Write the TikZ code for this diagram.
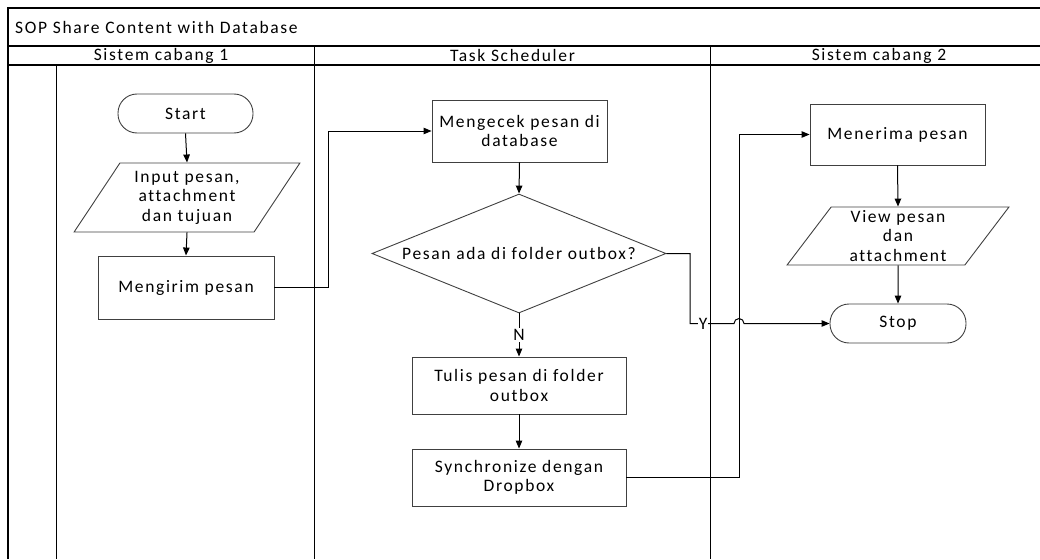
\documentclass[tikz,border=0pt]{standalone}
\usepackage{fontspec}
\setmainfont{Carlito}[LetterSpace=9.5,Ligatures=NoCommon]
\usetikzlibrary{shapes.geometric,arrows.meta,calc}
\newcommand{\fs}{\fontsize{17.5}{19.5}\selectfont}
\begin{document}
\begin{tikzpicture}[x=1pt,y=-1pt,
  frame/.style={line width=1.6pt, draw=black},
  box/.style={draw=black!75, line width=0.9pt, rectangle, align=center, inner sep=0pt, font=\fs},
  term/.style={box, rounded corners=19pt},
  io/.style={trapezium, trapezium stretches=true, trapezium left angle=56, trapezium right angle=124, draw=black!75, line width=0.9pt, align=center, inner sep=0pt, font=\fs},
  dec/.style={diamond, draw=black!75, line width=0.9pt, aspect=2.47, minimum width=294pt, minimum height=119pt, inner sep=0pt, font=\fs},
  conn/.style={draw=black, line width=1pt, -{Triangle[length=8pt,width=6.5pt]}},
  lbl/.style={fill=white, inner sep=1pt, font=\fs},
  hdr/.style={font=\fs, inner sep=0pt}
]
\useasboundingbox (0,0) rectangle (1040,559);
% frame and lanes
\draw[frame] (8,559) -- (8,8) -- (1040,8);
\draw[frame] (8,46) -- (1040,46);
\draw[frame] (8,65) -- (1040,65);
\draw[frame] (314.5,46) -- (314.5,559);
\draw[frame] (710.5,46) -- (710.5,559);
\draw[frame] (56.5,65) -- (56.5,559);
% headers
\node[hdr, anchor=west] (title) at (15,27) {SOP Share Content with Database};
\node[hdr] (h1) at (161,55.5) {Sistem cabang 1};
\node[hdr] (h2) at (512.5,55.5) {Task Scheduler};
\node[hdr] (h3) at (879,55.5) {Sistem cabang 2};
% nodes
\node[term, minimum width=135pt, minimum height=39pt] (start) at (185.5,113.5) {Start};
\node[io, minimum width=226pt, minimum height=69pt] (input) at (187,197.5) {Input pesan,\\attachment\\dan tujuan};
\node[box, minimum width=176pt, minimum height=63pt] (send) at (186,287.5) {Mengirim pesan};
\node[box, minimum width=175pt, minimum height=62pt] (check) at (519.5,131) {Mengecek pesan di\\database};
\node[dec] (dec) at (519,253.5) {Pesan ada di folder outbox?};
\node[box, minimum width=214pt, minimum height=57pt] (write) at (519,385.5) {Tulis pesan di folder\\outbox};
\node[box, minimum width=214pt, minimum height=57pt] (sync) at (519,477.5) {Synchronize dengan\\Dropbox};
\node[box, minimum width=175pt, minimum height=61pt] (recv) at (897.5,134.5) {Menerima pesan};
\node[io, minimum width=222pt, minimum height=58pt, trapezium left angle=58, trapezium right angle=122] (view) at (898,236) {View pesan\\dan\\attachment};
\node[term, minimum width=136pt, minimum height=39pt] (stop) at (898,323.5) {Stop};
% helper coordinates
\coordinate (j1) at (328,0);
\coordinate (j2) at (739,0);
\coordinate (j3) at (690,0);
% connectors
\draw[conn] (start.south) -- (input.north);
\draw[conn] (input.south) -- (send.north);
\draw[conn] (send.east) -- (send.east -| j1) |- (check.west);
\draw[conn] (check.south) -- (dec.north);
\draw[conn] (dec.south) -- node[lbl]{N} (write.north);
\draw[conn] (write.south) -- (sync.north);
\draw[conn] (sync.east) -- (sync.east -| j2) |- (recv.west);
\draw[conn] (recv.south) -- (view.north);
\draw[conn] (view.south) -- (stop.north);
\draw[conn] (dec.east) -- (dec.east -| j3) -- (j3 |- stop.west) -- node[lbl,pos=0.3]{Y} ($(j2 |- stop.west)+(-5,0)$) arc[start angle=180,end angle=360,radius=5] -- (stop.west);
\end{tikzpicture}
\end{document}
